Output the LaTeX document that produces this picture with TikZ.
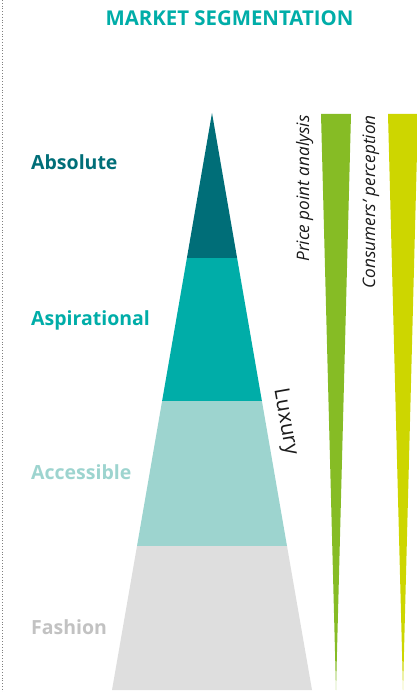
\documentclass[tikz,border=0pt]{standalone}
\usepackage{fontspec}
\setmainfont{Open Sans}
\definecolor{absC}{HTML}{006E78}
\definecolor{aspC}{HTML}{00ADA8}
\definecolor{accC}{HTML}{9DD4CF}
\definecolor{fasC}{HTML}{DEDEDE}
\definecolor{fasT}{HTML}{C2C2C2}
\definecolor{grnC}{HTML}{86BC25}
\definecolor{yelC}{HTML}{CDD600}
\definecolor{txtC}{HTML}{1A1A1A}
\begin{document}
\begin{tikzpicture}[x=1pt,y=-1pt,
  seglabel/.style={anchor=base west,inner sep=0pt,font=\fontsize{19.5}{22}\selectfont\bfseries},
  sidelabel/.style={anchor=base east,inner sep=0pt,rotate=90,text=txtC,font=\fontsize{17.2}{20}\selectfont\itshape}]
\useasboundingbox (0,0) rectangle (416,692);
\draw[gray,dotted,line width=0.8pt] (2,0) -- (2,692);
\node[anchor=base,inner sep=0pt,text=aspC,font=\fontsize{20.4}{24}\selectfont\bfseries] (title) at (229.5,26) {MARKET SEGMENTATION};
% pyramid
\coordinate (apex) at (212,113);
\fill[absC] (apex) -- (237.1,258) -- (186.9,258) -- cycle;
\fill[aspC] (186.9,258) -- (237.1,258) -- (261.9,401) -- (162.1,401) -- cycle;
\fill[accC] (162.1,401) -- (261.9,401) -- (287,546) -- (137,546) -- cycle;
\fill[fasC] (137,546) -- (287,546) -- (312,690) -- (112,690) -- cycle;
% labels
\node[seglabel,text=absC] (absolute) at (31,170) {Absolute};
\node[seglabel,text=aspC] (aspirational) at (31,325) {Aspirational};
\node[seglabel,text=accC] (accessible) at (31,479) {Accessible};
\node[seglabel,text=fasT] (fashion) at (31,634) {Fashion};
\node[inner sep=0pt,rotate=-80,text=txtC,font=\fontsize{21}{24}\selectfont] (luxury) at (285,422) {Luxury};
% wedges
\fill[grnC] (321,114) -- (351,114) -- (336,690) -- cycle;
\fill[yelC] (388,114) -- (418,114) -- (403,690) -- cycle;
\node[sidelabel] (price) at (309,115) {Price point analysis};
\node[sidelabel] (consumers) at (375,115) {Consumers' perception};
\end{tikzpicture}
\end{document}
